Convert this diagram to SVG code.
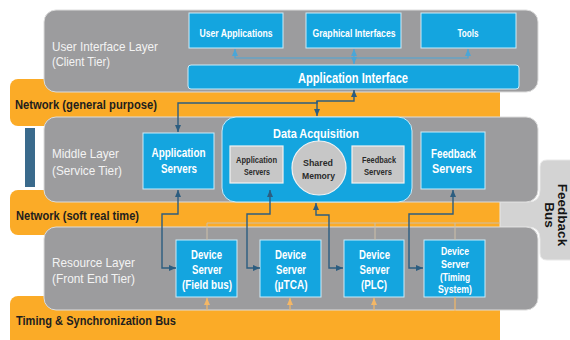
<svg xmlns="http://www.w3.org/2000/svg" width="570" height="340" viewBox="0 0 570 340">
<defs>
<style>
.band{fill:#fbab27}
.layer{fill:#9c9c9e;stroke:#dcdcdc;stroke-width:1}
.blue{fill:#14a5df;stroke:#c9ecfa;stroke-width:1}
.inner{fill:#c7c7c7;stroke:#f2f2f2;stroke-width:1.2}
.lbl{font-family:"Liberation Sans",Arial,sans-serif;font-size:13px;fill:#f3f3f3}
.net{font-family:"Liberation Sans",Arial,sans-serif;font-size:12.5px;font-weight:bold;fill:#1e1e1e}
.bt{font-family:"Liberation Sans",Arial,sans-serif;font-weight:bold;fill:#ffffff;text-anchor:middle}
.it{font-family:"Liberation Sans",Arial,sans-serif;font-weight:bold;fill:#2a2a2a;text-anchor:middle;font-size:9.5px}
.dk{fill:none;stroke:#2c5d80;stroke-width:1.4}
.lt{fill:none;stroke:#4aa6d8;stroke-width:1.2}
.or{fill:none;stroke:#f4b766;stroke-width:1.2}
.fa{fill:none;stroke:#cdbfa8;stroke-width:1}
</style>
<marker id="ad" viewBox="0 0 7 6" refX="7" refY="3" markerWidth="7" markerHeight="6" markerUnits="userSpaceOnUse" orient="auto-start-reverse"><path d="M0,0 L7,3 L0,6 z" fill="#2c5d80"/></marker>
<marker id="al" viewBox="0 0 7 6" refX="7" refY="3" markerWidth="7" markerHeight="6" markerUnits="userSpaceOnUse" orient="auto-start-reverse"><path d="M0,0 L7,3 L0,6 z" fill="#4aa6d8"/></marker>
<marker id="ao" viewBox="0 0 7 6" refX="7" refY="3" markerWidth="7" markerHeight="6" markerUnits="userSpaceOnUse" orient="auto-start-reverse"><path d="M0,0 L7,3 L0,6 z" fill="#f4b766"/></marker>
</defs>
<rect width="570" height="340" fill="#ffffff"/>

<g id="network-general">
<rect class="band" x="10" y="79" width="490" height="47" rx="8"/>
<text class="net" x="15" y="109" textLength="142" lengthAdjust="spacingAndGlyphs">Network (general purpose)</text>
</g>
<g id="network-soft">
<rect class="band" x="10" y="190" width="490" height="45" rx="8"/>
<text class="net" x="16" y="220" textLength="123" lengthAdjust="spacingAndGlyphs">Network (soft real time)</text>
</g>
<g id="timing-bus">
<rect class="band" x="10" y="296" width="490" height="55" rx="8"/>
<text class="net" x="16" y="325" textLength="160" lengthAdjust="spacingAndGlyphs">Timing &amp; Synchronization Bus</text>
</g>
<g id="feedback-bus">
<path d="M578,160 H547 Q540,160 540,167 V190 Q540,202 528,202 H500 V227 H528 Q540,227 540,239 V253 Q540,260 547,260 H578 Z" fill="#d3d3d3" stroke="#e8e8e8" stroke-width="1"/>
<text transform="translate(558,215) rotate(90)" text-anchor="middle" style="font-family:'Liberation Sans',Arial,sans-serif;font-size:13.5px;font-weight:bold;fill:#151515">Feedback</text>
<text transform="translate(545,215) rotate(90)" text-anchor="middle" style="font-family:'Liberation Sans',Arial,sans-serif;font-size:13.5px;font-weight:bold;fill:#151515">Bus</text>
</g>
<rect id="side-bar" x="25" y="128" width="10" height="59" fill="#3a6a8c"/>

<g id="user-interface-layer">
<rect class="layer" x="44" y="10" width="494" height="82" rx="12"/>
<text class="lbl" x="52" y="51" textLength="106" lengthAdjust="spacingAndGlyphs">User Interface Layer</text>
<text class="lbl" x="52" y="66" textLength="58" lengthAdjust="spacingAndGlyphs">(Client Tier)</text>
</g>
<g id="middle-layer">
<rect class="layer" x="44" y="117" width="494" height="85" rx="12"/>
<text class="lbl" x="52" y="158" textLength="67" lengthAdjust="spacingAndGlyphs">Middle Layer</text>
<text class="lbl" x="52" y="175" textLength="70" lengthAdjust="spacingAndGlyphs">(Service Tier)</text>
</g>
<g id="resource-layer">
<rect class="layer" x="44" y="227" width="494" height="83" rx="12"/>
<text class="lbl" x="52" y="267" textLength="83" lengthAdjust="spacingAndGlyphs">Resource Layer</text>
<text class="lbl" x="52" y="283" textLength="83" lengthAdjust="spacingAndGlyphs">(Front End Tier)</text>
</g>

<g id="user-applications">
<rect class="blue" x="189" y="13" width="94" height="35"/>
<text class="bt" x="236" y="37" font-size="10.5" textLength="73" lengthAdjust="spacingAndGlyphs">User Applications</text>
</g>
<g id="graphical-interfaces">
<rect class="blue" x="306" y="13" width="95" height="35"/>
<text class="bt" x="354" y="37" font-size="10.5" textLength="83" lengthAdjust="spacingAndGlyphs">Graphical Interfaces</text>
</g>
<g id="tools">
<rect class="blue" x="421" y="13" width="95" height="35"/>
<text class="bt" x="468" y="37" font-size="10.5" textLength="21" lengthAdjust="spacingAndGlyphs">Tools</text>
</g>
<g id="application-interface">
<rect class="blue" x="188" y="65" width="331" height="24" rx="3"/>
<text class="bt" x="353" y="83" font-size="14" textLength="110" lengthAdjust="spacingAndGlyphs">Application Interface</text>
</g>

<g id="application-servers">
<rect class="blue" x="143" y="133" width="71" height="56"/>
<text class="bt" x="178.5" y="157" font-size="12.5" textLength="54" lengthAdjust="spacingAndGlyphs">Application</text>
<text class="bt" x="179" y="173" font-size="12.5" textLength="36" lengthAdjust="spacingAndGlyphs">Servers</text>
</g>
<g id="data-acquisition">
<rect class="blue" x="222" y="117" width="190" height="85" rx="14"/>
<text class="bt" x="316" y="138" font-size="13" textLength="86" lengthAdjust="spacingAndGlyphs">Data Acquisition</text>
</g>
<g id="da-application-servers">
<rect class="inner" x="230" y="146" width="53" height="37"/>
<text class="it" x="256.5" y="163" textLength="41" lengthAdjust="spacingAndGlyphs">Application</text>
<text class="it" x="257" y="175" textLength="26" lengthAdjust="spacingAndGlyphs">Servers</text>
</g>
<g id="shared-memory">
<circle class="inner" cx="319" cy="168" r="27"/>
<text class="it" x="318" y="166" font-size="10.5" textLength="30" lengthAdjust="spacingAndGlyphs">Shared</text>
<text class="it" x="318.5" y="179" font-size="10.5" textLength="33" lengthAdjust="spacingAndGlyphs">Memory</text>
</g>
<g id="da-feedback-servers">
<rect class="inner" x="352" y="146" width="52" height="37"/>
<text class="it" x="379" y="163" textLength="34" lengthAdjust="spacingAndGlyphs">Feedback</text>
<text class="it" x="378" y="175" textLength="28" lengthAdjust="spacingAndGlyphs">Servers</text>
</g>
<g id="feedback-servers">
<rect class="blue" x="421" y="132" width="64" height="57"/>
<text class="bt" x="453.5" y="158" font-size="12.5" textLength="45" lengthAdjust="spacingAndGlyphs">Feedback</text>
<text class="bt" x="452" y="173" font-size="12.5" textLength="40" lengthAdjust="spacingAndGlyphs">Servers</text>
</g>

<g id="device-fieldbus">
<rect class="blue" x="176" y="240" width="61" height="57"/>
<text class="bt" x="206.5" y="259" font-size="12.5" textLength="31" lengthAdjust="spacingAndGlyphs">Device</text>
<text class="bt" x="207" y="274" font-size="12.5" textLength="30" lengthAdjust="spacingAndGlyphs">Server</text>
<text class="bt" x="207" y="289" font-size="12.5" textLength="50" lengthAdjust="spacingAndGlyphs">(Field bus)</text>
</g>
<g id="device-utca">
<rect class="blue" x="260" y="240" width="61" height="57"/>
<text class="bt" x="290.5" y="259" font-size="12.5" textLength="31" lengthAdjust="spacingAndGlyphs">Device</text>
<text class="bt" x="291" y="274" font-size="12.5" textLength="30" lengthAdjust="spacingAndGlyphs">Server</text>
<text class="bt" x="291" y="289" font-size="12.5" textLength="33" lengthAdjust="spacingAndGlyphs">(µTCA)</text>
</g>
<g id="device-plc">
<rect class="blue" x="344" y="240" width="60" height="57"/>
<text class="bt" x="374.5" y="259" font-size="12.5" textLength="31" lengthAdjust="spacingAndGlyphs">Device</text>
<text class="bt" x="374.5" y="274" font-size="12.5" textLength="30" lengthAdjust="spacingAndGlyphs">Server</text>
<text class="bt" x="374" y="289" font-size="12.5" textLength="26" lengthAdjust="spacingAndGlyphs">(PLC)</text>
</g>
<g id="device-timing">
<rect class="blue" x="424" y="240" width="61" height="57"/>
<text class="bt" x="455" y="255" font-size="11" textLength="28" lengthAdjust="spacingAndGlyphs">Device</text>
<text class="bt" x="455" y="267.5" font-size="11" textLength="28" lengthAdjust="spacingAndGlyphs">Server</text>
<text class="bt" x="455" y="280.5" font-size="11" textLength="30" lengthAdjust="spacingAndGlyphs">(Timing</text>
<text class="bt" x="455" y="293" font-size="11" textLength="34" lengthAdjust="spacingAndGlyphs">System)</text>
</g>

<g id="connectors">
<path class="lt" d="M235,49 V58 H468 V49" marker-start="url(#al)" marker-end="url(#al)"/>
<path class="lt" d="M354,49 V64" marker-start="url(#al)" marker-end="url(#al)"/>
<path class="dk" d="M178,132 V103 H317 V101 H354 V90" marker-start="url(#ad)" marker-end="url(#ad)"/>
<path class="dk" d="M317,101 V116" marker-end="url(#ad)"/>
<path class="fa" d="M207,240 V223 H500"/>
<path class="fa" d="M375,223 V240"/>
<path class="fa" d="M455,223 V240"/>
<path class="dk" d="M178,190 V214 H162 V268 H176" marker-start="url(#ad)" marker-end="url(#ad)"/>
<path class="dk" d="M270,190 V214 H247 V268 H260" marker-start="url(#ad)" marker-end="url(#ad)"/>
<path class="dk" d="M316,203 V215 H329 V268 H343" marker-start="url(#ad)" marker-end="url(#ad)"/>
<path class="dk" d="M453,190 V214 H409 V268 H423" marker-start="url(#ad)" marker-end="url(#ad)"/>
<path class="or" d="M207,310 V298" marker-end="url(#ao)"/>
<path class="or" d="M290,310 V298" marker-end="url(#ao)"/>
<path class="or" d="M374,310 V298" marker-end="url(#ao)"/>
<path class="or" d="M455,297 V311"/>
</g>
</svg>
